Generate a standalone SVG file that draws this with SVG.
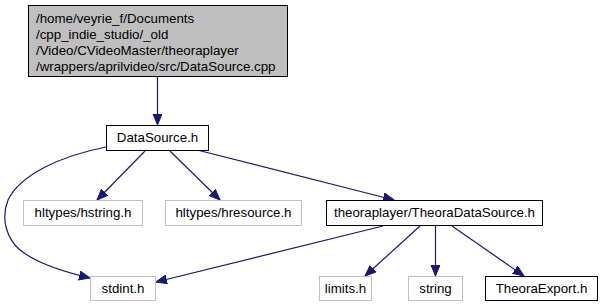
<svg xmlns="http://www.w3.org/2000/svg" width="602" height="307" viewBox="0 0 602 307">
  <defs>
    <marker id="arrow" markerUnits="userSpaceOnUse" markerWidth="12" markerHeight="10" refX="11" refY="4.5" orient="auto">
      <path d="M0,0 L11,4.5 L0,9 Z" fill="#191970" stroke="#191970" stroke-width="1"/>
    </marker>
  </defs>
  <style>
    text { font-family: "Liberation Sans", Arial, Helvetica, sans-serif; font-size: 13.3px; fill: #000; }
    .c { text-anchor: middle; }
    .box { fill: #fff; stroke: #000; stroke-width: 1; }
    .ext { fill: #fff; stroke: #bfbfbf; stroke-width: 1; }
    .root { fill: #bfbfbf; stroke: #000; stroke-width: 1; }
    .edge { fill: none; stroke: #191970; stroke-width: 1.2; marker-end: url(#arrow); }
  </style>
  <rect width="602" height="307" fill="#fff"/>

  <g id="edges">
    <path class="edge" d="M157.5,77 L157.5,125"/>
    <path class="edge" d="M145,151 L97,200"/>
    <path class="edge" d="M170,151 L220,200"/>
    <path class="edge" d="M199,150.5 L394,200"/>
    <path class="edge" d="M106,147 C60,156 20,175 8,200 C0,220 8,240 20,250 C35,262 60,271 90,278"/>
    <path class="edge" d="M383,226 L156,282"/>
    <path class="edge" d="M420,226 L365,276"/>
    <path class="edge" d="M435.5,226 L435.5,276"/>
    <path class="edge" d="M452,226 L524,276"/>
  </g>

  <g id="node-root">
    <rect class="root" x="28.5" y="5.5" width="259" height="71"/>
    <text x="36" y="23">/home/veyrie_f/Documents</text>
    <text x="36" y="39">/cpp_indie_studio/_old</text>
    <text x="36" y="55">/Video/CVideoMaster/theoraplayer</text>
    <text x="36" y="71">/wrappers/aprilvideo/src/DataSource.cpp</text>
  </g>

  <g id="node-datasource">
    <rect class="box" x="106.5" y="125.5" width="102" height="25"/>
    <text class="c" x="157.5" y="142">DataSource.h</text>
  </g>

  <g id="node-hstring">
    <rect class="ext" x="23.5" y="200.5" width="119" height="25"/>
    <text class="c" x="83" y="217">hltypes/hstring.h</text>
  </g>

  <g id="node-hresource">
    <rect class="ext" x="165.5" y="200.5" width="136" height="25"/>
    <text class="c" x="233.5" y="217">hltypes/hresource.h</text>
  </g>

  <g id="node-theoradatasource">
    <rect class="box" x="326.5" y="200.5" width="216" height="25"/>
    <text class="c" x="434.5" y="217">theoraplayer/TheoraDataSource.h</text>
  </g>

  <g id="node-stdint">
    <rect class="ext" x="90.5" y="276.5" width="65" height="24"/>
    <text class="c" x="123" y="293">stdint.h</text>
  </g>

  <g id="node-limits">
    <rect class="ext" x="319.5" y="276.5" width="52" height="24"/>
    <text class="c" x="345.5" y="293">limits.h</text>
  </g>

  <g id="node-string">
    <rect class="ext" x="408.5" y="276.5" width="54" height="24"/>
    <text class="c" x="435.5" y="293">string</text>
  </g>

  <g id="node-theoraexport">
    <rect class="box" x="485.5" y="276.5" width="112" height="24"/>
    <text class="c" x="541.5" y="293">TheoraExport.h</text>
  </g>
</svg>
